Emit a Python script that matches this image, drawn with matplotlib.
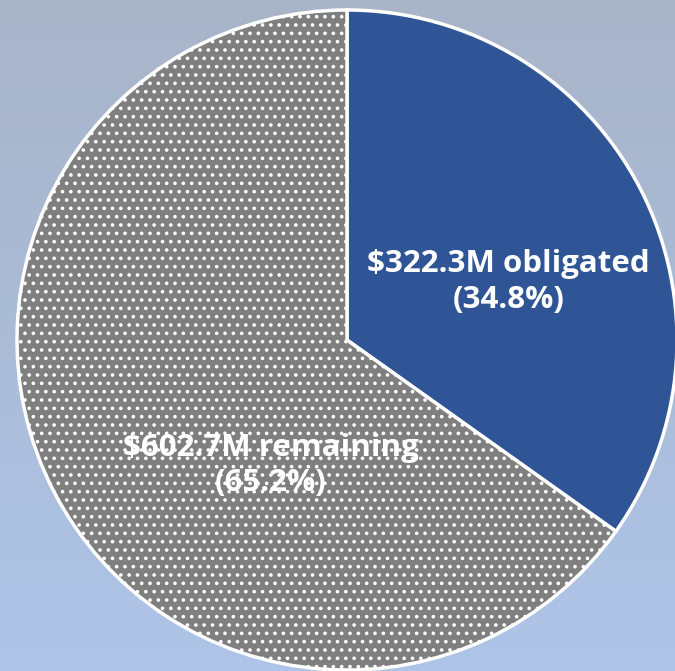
import numpy as np
import matplotlib.pyplot as plt

labels = ['$322.3M obligated\n(34.8%)', '$602.7M remaining\n(65.2%)']
values = [322.3, 602.7]
colors = ['#2F5597', '#7F7F7F']

plt.rcParams['hatch.color'] = 'white'
plt.rcParams['hatch.linewidth'] = 1.4

fig = plt.figure(figsize=(6.75, 6.71), dpi=100)

# background gradient
bg = fig.add_axes([0, 0, 1, 1])
top = np.array([168, 180, 200]) / 255
bot = np.array([174, 196, 232]) / 255
t = np.linspace(0, 1, 256)[:, None]
grad = top * (1 - t) + bot * t
bg.imshow(grad[:, None, :], aspect='auto', extent=[0, 1, 0, 1])
bg.axis('off')

ax = fig.add_axes([0, 0, 1, 1])
ax.patch.set_alpha(0)

wedges, texts = ax.pie(values, colors=colors, startangle=90, counterclock=False,
                       radius=1, wedgeprops=dict(edgecolor='white', linewidth=2.5))
wedges[1].set_hatch('..')

# place the pie like the original (centre ~ (347, 340) px, radius ~ 330 px)
cx, cy, r = 347, 340, 330
ax.set_aspect('auto')
ax.set_xlim(-cx / r, (675 - cx) / r)
ax.set_ylim(-(671 - cy) / r, cy / r)

ax.text(0.49, 0.175, labels[0], ha='center', va='center', color='white',
        fontsize=22.5, fontweight='bold', family='Open Sans', linespacing=1.25)
ax.text(-0.23, -0.38, labels[1], ha='center', va='center', color='white',
        fontsize=22.5, fontweight='bold', family='Open Sans', linespacing=1.25)
ax.axis('off')

fig.savefig('out.png', dpi=100)
